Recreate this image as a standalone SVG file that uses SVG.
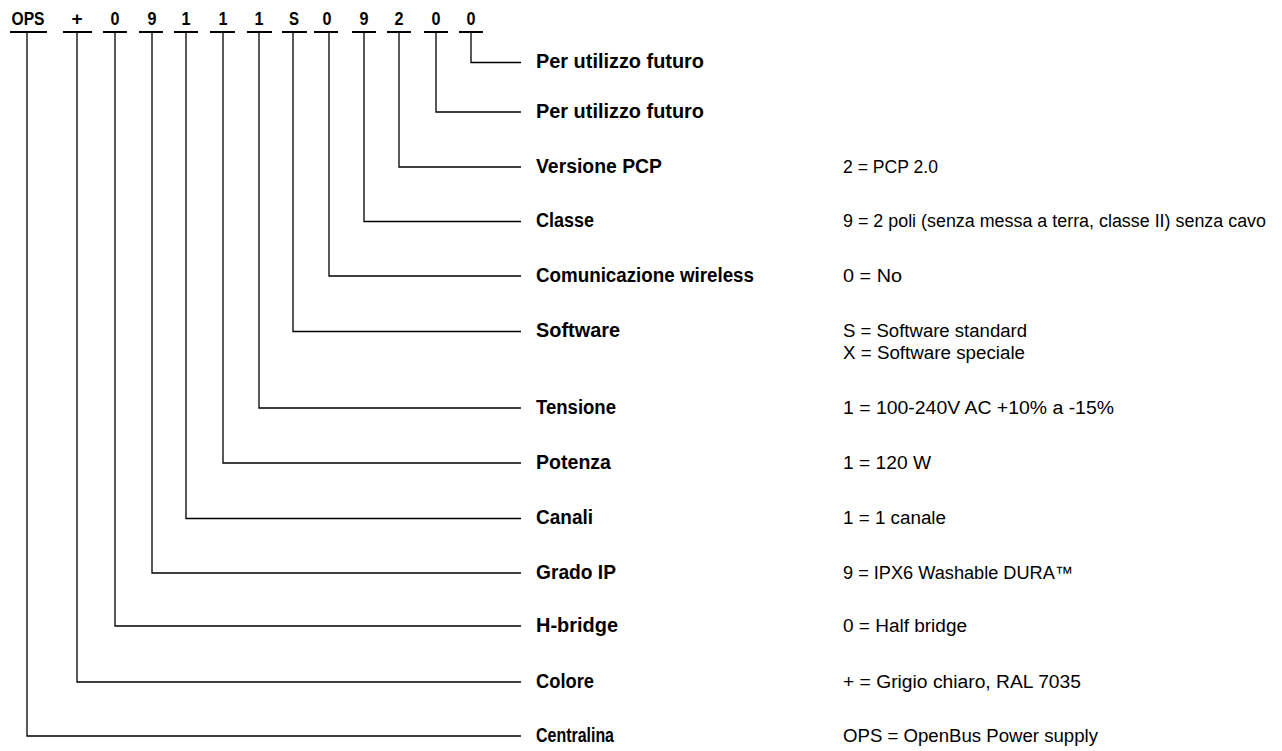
<svg xmlns="http://www.w3.org/2000/svg" width="1282" height="751" viewBox="0 0 1282 751">
<style>
  .bg { fill: #ffffff; }
  .code { font-family: "Liberation Sans", Arial, sans-serif; font-weight: bold; font-size: 19px; fill: #000; text-anchor: middle; }
  .lbl { font-family: "Liberation Sans", Arial, sans-serif; font-weight: bold; font-size: 20px; fill: #000; }
  .val { font-family: "Liberation Sans", Arial, sans-serif; font-size: 18px; fill: #000; }
  .ul { stroke: #000; stroke-width: 2; fill: none; }
  .conn { stroke: #000; stroke-width: 1.3; fill: none; }
</style>
<rect class="bg" x="0" y="0" width="1282" height="751"/>

<g id="code">
  <text class="code" x="28" y="25" textLength="33" lengthAdjust="spacingAndGlyphs">OPS</text>
  <text class="code" x="77" y="25">+</text>
  <text class="code" x="115" y="25" textLength="9" lengthAdjust="spacingAndGlyphs">0</text>
  <text class="code" x="152" y="25" textLength="9" lengthAdjust="spacingAndGlyphs">9</text>
  <text class="code" x="186" y="25" textLength="9" lengthAdjust="spacingAndGlyphs">1</text>
  <text class="code" x="223" y="25" textLength="9" lengthAdjust="spacingAndGlyphs">1</text>
  <text class="code" x="259" y="25" textLength="9" lengthAdjust="spacingAndGlyphs">1</text>
  <text class="code" x="294" y="25" textLength="10" lengthAdjust="spacingAndGlyphs">S</text>
  <text class="code" x="327" y="25" textLength="9" lengthAdjust="spacingAndGlyphs">0</text>
  <text class="code" x="364" y="25" textLength="9" lengthAdjust="spacingAndGlyphs">9</text>
  <text class="code" x="399" y="25" textLength="9" lengthAdjust="spacingAndGlyphs">2</text>
  <text class="code" x="436" y="25" textLength="9" lengthAdjust="spacingAndGlyphs">0</text>
  <text class="code" x="471" y="25" textLength="9" lengthAdjust="spacingAndGlyphs">0</text>
  <path class="ul" d="M10 32H47 M63 32H92 M103 32H127 M139 32H163 M174 32H198 M210 32H235 M247 32H272 M282 32H307 M314 32H338 M352 32H376 M387 32H411 M424 32H448 M459 32H483"/>
</g>

<g id="connectors">
  <path class="conn" d="M471 33V62.5H521"/>
  <path class="conn" d="M436 33V112H521"/>
  <path class="conn" d="M399 33V167H521"/>
  <path class="conn" d="M364 33V221.5H521"/>
  <path class="conn" d="M329 33V276H521"/>
  <path class="conn" d="M293 33V331.5H521"/>
  <path class="conn" d="M259 33V408H521"/>
  <path class="conn" d="M223 33V463H521"/>
  <path class="conn" d="M186 33V518.5H521"/>
  <path class="conn" d="M152 33V573H521"/>
  <path class="conn" d="M115 33V626H521"/>
  <path class="conn" d="M77 33V682H521"/>
  <path class="conn" d="M27 33V736H521"/>
</g>

<g id="row-futuro1">
  <text class="lbl" x="536" y="68" textLength="168" lengthAdjust="spacingAndGlyphs">Per utilizzo futuro</text>
</g>
<g id="row-futuro2">
  <text class="lbl" x="536" y="117.5" textLength="168" lengthAdjust="spacingAndGlyphs">Per utilizzo futuro</text>
</g>
<g id="row-pcp">
  <text class="lbl" x="536" y="172.5" textLength="126" lengthAdjust="spacingAndGlyphs">Versione PCP</text>
  <text class="val" x="843" y="172.5" textLength="95" lengthAdjust="spacingAndGlyphs">2 = PCP 2.0</text>
</g>
<g id="row-classe">
  <text class="lbl" x="536" y="227" textLength="58" lengthAdjust="spacingAndGlyphs">Classe</text>
  <text class="val" x="843" y="227" textLength="423" lengthAdjust="spacingAndGlyphs">9 = 2 poli (senza messa a terra, classe II) senza cavo</text>
</g>
<g id="row-wireless">
  <text class="lbl" x="536" y="281.5" textLength="218" lengthAdjust="spacingAndGlyphs">Comunicazione wireless</text>
  <text class="val" x="843" y="281.5" textLength="59" lengthAdjust="spacingAndGlyphs">0 = No</text>
</g>
<g id="row-software">
  <text class="lbl" x="536" y="337" textLength="84" lengthAdjust="spacingAndGlyphs">Software</text>
  <text class="val" x="843" y="337" textLength="184" lengthAdjust="spacingAndGlyphs">S = Software standard</text>
  <text class="val" x="843" y="359" textLength="182" lengthAdjust="spacingAndGlyphs">X = Software speciale</text>
</g>
<g id="row-tensione">
  <text class="lbl" x="536" y="413.5" textLength="80" lengthAdjust="spacingAndGlyphs">Tensione</text>
  <text class="val" x="843" y="413.5" textLength="271" lengthAdjust="spacingAndGlyphs">1 = 100-240V AC +10% a -15%</text>
</g>
<g id="row-potenza">
  <text class="lbl" x="536" y="468.5" textLength="75" lengthAdjust="spacingAndGlyphs">Potenza</text>
  <text class="val" x="843" y="468.5" textLength="88" lengthAdjust="spacingAndGlyphs">1 = 120 W</text>
</g>
<g id="row-canali">
  <text class="lbl" x="536" y="524" textLength="57" lengthAdjust="spacingAndGlyphs">Canali</text>
  <text class="val" x="843" y="524" textLength="103" lengthAdjust="spacingAndGlyphs">1 = 1 canale</text>
</g>
<g id="row-ip">
  <text class="lbl" x="536" y="578.5" textLength="80" lengthAdjust="spacingAndGlyphs">Grado IP</text>
  <text class="val" x="843" y="578.5" textLength="230" lengthAdjust="spacingAndGlyphs">9 = IPX6 Washable DURA™</text>
</g>
<g id="row-hbridge">
  <text class="lbl" x="536" y="631.5" textLength="82" lengthAdjust="spacingAndGlyphs">H-bridge</text>
  <text class="val" x="843" y="631.5" textLength="124" lengthAdjust="spacingAndGlyphs">0 = Half bridge</text>
</g>
<g id="row-colore">
  <text class="lbl" x="536" y="687.5" textLength="58" lengthAdjust="spacingAndGlyphs">Colore</text>
  <text class="val" x="843" y="687.5" textLength="238" lengthAdjust="spacingAndGlyphs">+ = Grigio chiaro, RAL 7035</text>
</g>
<g id="row-centralina">
  <text class="lbl" x="536" y="741.5" textLength="78" lengthAdjust="spacingAndGlyphs">Centralina</text>
  <text class="val" x="843" y="741.5" textLength="255" lengthAdjust="spacingAndGlyphs">OPS = OpenBus Power supply</text>
</g>
</svg>
